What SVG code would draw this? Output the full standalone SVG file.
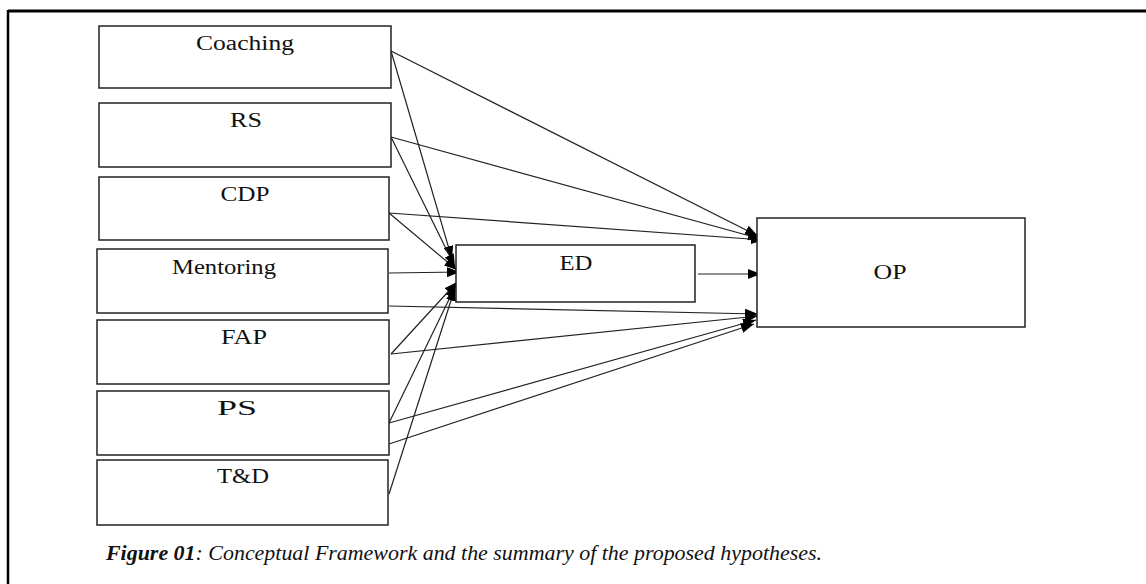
<svg xmlns="http://www.w3.org/2000/svg" width="1146" height="584" viewBox="0 0 1146 584">
<defs>
<marker id="ah" markerUnits="userSpaceOnUse" markerWidth="13" markerHeight="10" refX="13" refY="5" orient="auto">
<path d="M0,0 L13,5 L0,10 z" fill="#000"/>
</marker>
<style>
.box{fill:#fff;stroke:#222;stroke-width:1.5}
.lbl{font-family:"Liberation Serif","Times New Roman",serif;font-size:20px;fill:#111;text-anchor:middle}
.cn{stroke:#222;stroke-width:1.2;fill:none;marker-end:url(#ah)}
.cap{font-family:"Liberation Serif","Times New Roman",serif;font-size:20px;font-style:italic;fill:#111}
</style>
</defs>
<rect width="1146" height="584" fill="#fff"/>
<line x1="8" y1="11" x2="1146" y2="11" stroke="#000" stroke-width="3"/>
<line x1="8" y1="10" x2="8" y2="584" stroke="#000" stroke-width="2.5"/>

<g id="connectors">
<line class="cn" x1="391" y1="51" x2="452" y2="259"/>
<line class="cn" x1="391" y1="51" x2="758" y2="236"/>
<line class="cn" x1="391" y1="137" x2="455" y2="267"/>
<line class="cn" x1="391" y1="137" x2="761" y2="239"/>
<line class="cn" x1="389" y1="213" x2="457" y2="270"/>
<line class="cn" x1="389" y1="213" x2="764" y2="240"/>
<line class="cn" x1="389" y1="273" x2="460" y2="272"/>
<line class="cn" x1="389" y1="306" x2="758" y2="314"/>
<line class="cn" x1="391" y1="354" x2="457" y2="282"/>
<line class="cn" x1="391" y1="354" x2="758" y2="316"/>
<line class="cn" x1="389" y1="423" x2="456" y2="285"/>
<line class="cn" x1="389" y1="423" x2="756" y2="320"/>
<line class="cn" x1="389" y1="444" x2="754" y2="324"/>
<line class="cn" x1="389" y1="494" x2="455" y2="288"/>
<line class="cn" x1="698" y1="274" x2="761" y2="274"/>
</g>

<g id="coaching"><rect class="box" x="99" y="26" width="292" height="62"/><text class="lbl" x="245" y="50" textLength="98" lengthAdjust="spacingAndGlyphs">Coaching</text></g>
<g id="rs"><rect class="box" x="99" y="103" width="292" height="64"/><text class="lbl" x="246" y="127" textLength="32" lengthAdjust="spacingAndGlyphs">RS</text></g>
<g id="cdp"><rect class="box" x="99" y="177" width="290" height="63"/><text class="lbl" x="245" y="201" textLength="49" lengthAdjust="spacingAndGlyphs">CDP</text></g>
<g id="mentoring"><rect class="box" x="97" y="249" width="291" height="64"/><text class="lbl" x="224" y="274" textLength="104" lengthAdjust="spacingAndGlyphs">Mentoring</text></g>
<g id="fap"><rect class="box" x="97" y="320" width="292" height="64"/><text class="lbl" x="244" y="344" textLength="46" lengthAdjust="spacingAndGlyphs">FAP</text></g>
<g id="ps"><rect class="box" x="97" y="391" width="292" height="64"/><text class="lbl" x="237" y="415" textLength="40" lengthAdjust="spacingAndGlyphs">PS</text></g>
<g id="td"><rect class="box" x="97" y="460" width="291" height="65"/><text class="lbl" x="243" y="483" textLength="52" lengthAdjust="spacingAndGlyphs">T&amp;D</text></g>
<g id="ed"><rect class="box" x="456" y="245" width="239" height="57"/><text class="lbl" x="576" y="270" textLength="33" lengthAdjust="spacingAndGlyphs">ED</text></g>
<g id="op"><rect class="box" x="757" y="218" width="268" height="109"/><text class="lbl" x="890" y="279" textLength="33" lengthAdjust="spacingAndGlyphs">OP</text></g>

<text class="cap" x="106" y="560" textLength="716" lengthAdjust="spacingAndGlyphs"><tspan font-weight="bold">Figure 01</tspan>: Conceptual Framework and the summary of the proposed hypotheses.</text>
</svg>
